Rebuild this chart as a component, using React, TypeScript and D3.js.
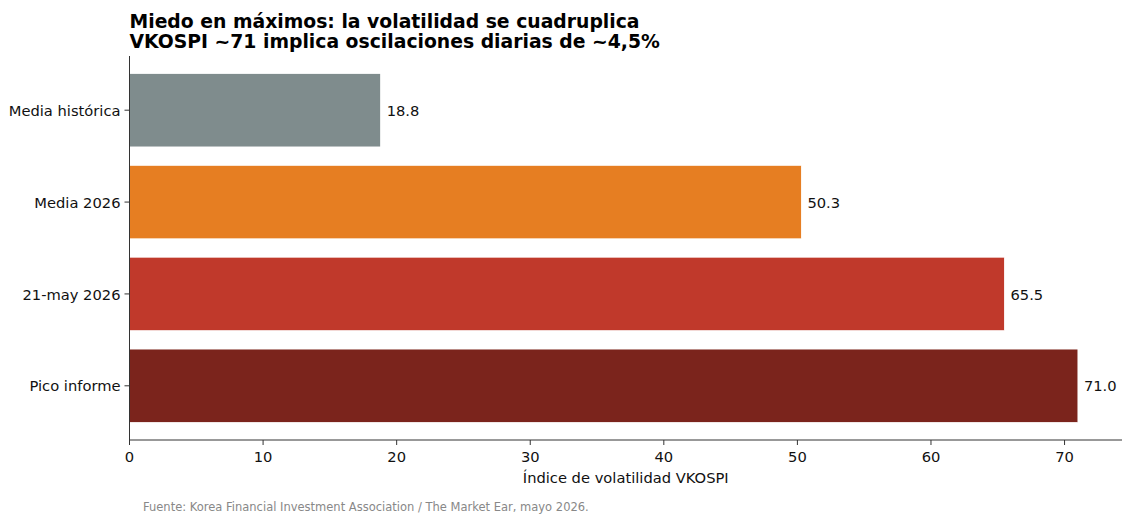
import React from "react";
import * as d3 from "d3";

const categories = ["Media histórica", "Media 2026", "21-may 2026", "Pico informe"];
const values = [18.8, 50.3, 65.5, 71.0];
const colors = ["#7f8c8d", "#e67e22", "#c0392b", "#7b241c"];
const xTicks = [0, 10, 20, 30, 40, 50, 60, 70];
const titleLines = [
  "Miedo en máximos: la volatilidad se cuadruplica",
  "VKOSPI ~71 implica oscilaciones diarias de ~4,5%",
];
const xLabel = "Índice de volatilidad VKOSPI";
const footer = "Fuente: Korea Financial Investment Association / The Market Ear, mayo 2026.";

const W = 1123;
const H = 516;
const FONT = "'DejaVu Sans', sans-serif";

export default function App() {
  const left = 129.5;
  const right = 1122;
  const top = 56;
  const bottom = 440;
  const fs = 14.7;
  const x = d3.scaleLinear().domain([0, 74.3]).range([left, right]);
  const y = d3.scaleLinear().domain([-0.59, 3.59]).range([top, bottom]);
  const bh = y(0.4) - y(-0.4);

  return (
    <svg width={W} height={H} style={{ display: "block", position: "absolute", left: 0, top: 0 }} fontFamily={FONT}>
      <rect width={W} height={H} fill="#fff" />
      {titleLines.map((t, i) => (
        <text key={i} x={129.5} y={27.5 + i * 20.2} fontSize={18.8} fontWeight="bold" fill="#000">
          {t}
        </text>
      ))}
      {categories.map((c, i) => (
        <g key={c}>
          <rect
            x={x(0)}
            y={y(i) - bh / 2}
            width={x(values[i]) - x(0)}
            height={bh}
            fill={colors[i]}
            stroke="#fff"
            strokeWidth={0.8}
          />
          <text x={x(values[i]) + 6} y={y(i)} dy="0.38em" fontSize={fs} fill="#111">
            {values[i].toFixed(1)}
          </text>
          <line x1={left - 5} x2={left} y1={y(i)} y2={y(i)} stroke="#333" strokeWidth={1} />
          <text x={left - 9} y={y(i)} dy="0.38em" fontSize={fs} textAnchor="end" fill="#111">
            {c}
          </text>
        </g>
      ))}
      <line x1={left} x2={left} y1={top} y2={bottom} stroke="#333" strokeWidth={1} />
      <line x1={left} x2={right} y1={bottom} y2={bottom} stroke="#333" strokeWidth={1} />
      {xTicks.map((t) => (
        <g key={t}>
          <line x1={x(t)} x2={x(t)} y1={bottom} y2={bottom + 5} stroke="#333" strokeWidth={1} />
          <text x={x(t)} y={bottom + 22} fontSize={fs} textAnchor="middle" fill="#111">
            {t}
          </text>
        </g>
      ))}
      <text x={(left + right) / 2} y={483} fontSize={fs} textAnchor="middle" fill="#111">
        {xLabel}
      </text>
      <text x={143} y={511} fontSize={11.5} fill="#888">
        {footer}
      </text>
    </svg>
  );
}
